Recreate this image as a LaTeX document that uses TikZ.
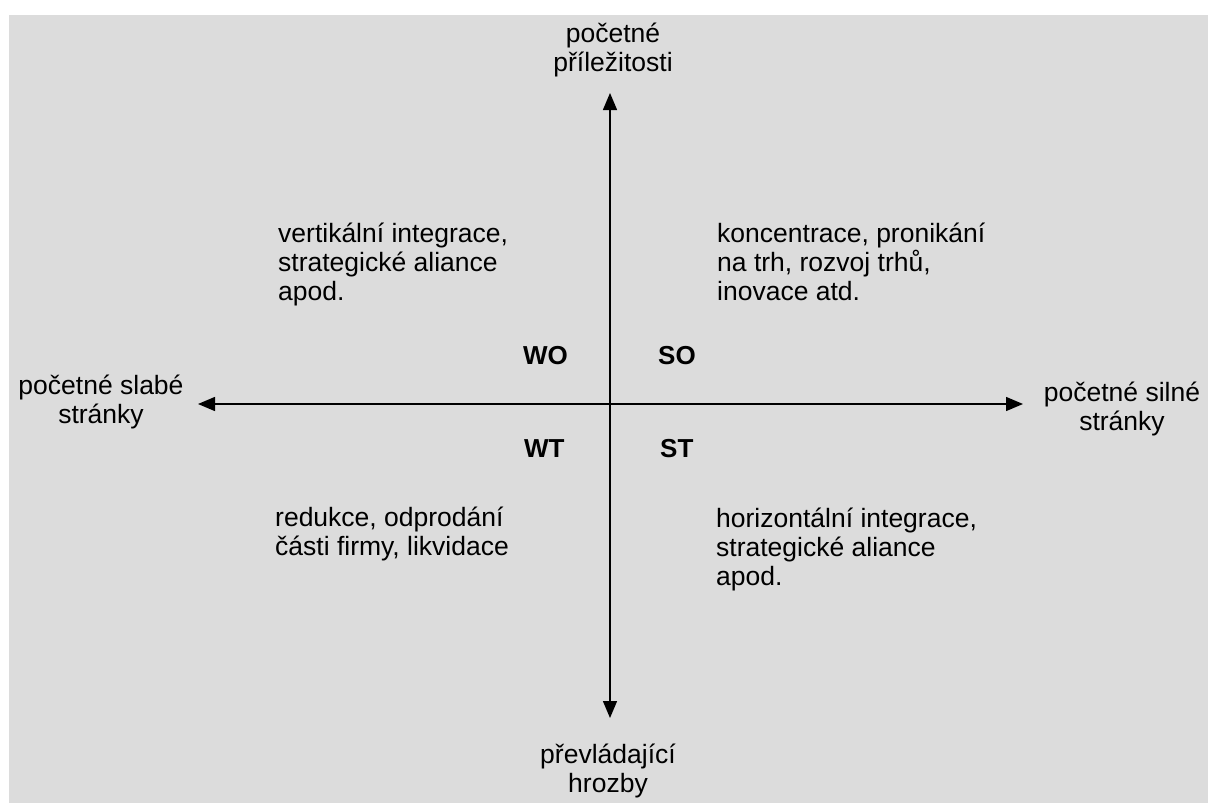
\documentclass[tikz,border=0pt]{standalone}
\usepackage{fontspec}
\setmainfont{Liberation Sans}
\usetikzlibrary{arrows.meta}
\definecolor{paper}{RGB}{220,220,220}
\tikzset{
  lbl/.style={inner sep=0pt, font=\fontsize{26.5}{29}\selectfont},
  quad/.style={inner sep=0pt, font=\fontsize{26}{29}\selectfont\bfseries},
  axis/.style={line width=1.4pt, -{Triangle[length=17pt,width=14pt]}}
}
\begin{document}
\begin{tikzpicture}[x=1pt,y=-1pt]
\useasboundingbox (0,0) rectangle (1208,803);
\fill[white] (0,0) rectangle (1208,803);
\fill[paper] (9,15) rectangle (1208,803);
% axes
\coordinate (c) at (610,404);
\coordinate (top) at (610,93);
\coordinate (bot) at (610,718);
\coordinate (lft) at (198,404);
\coordinate (rgt) at (1023,404);
\draw[axis] (c) -- (top);
\draw[axis] (c) -- (bot);
\draw[axis] (c) -- (lft);
\draw[axis] (c) -- (rgt);
% axis labels (base = last line)
\node[lbl, anchor=base, align=center] (tl) at (613,71) {početné\\příležitosti};
\node[lbl, anchor=base, align=center] (bl) at (608,792) {převládající\\hrozby};
\node[lbl, anchor=base, align=center] (ll) at (101,423) {početné slabé\\stránky};
\node[lbl, anchor=base, align=center] (rl) at (1122,430) {početné silné\\stránky};
% quadrant labels
\node[quad, anchor=base west] (wo) at (523,364) {WO};
\node[quad, anchor=base west] (so) at (658,364) {SO};
\node[quad, anchor=base west] (wt) at (524,457) {WT};
\node[quad, anchor=base west] (st) at (660,457) {ST};
% strategies
\node[lbl, anchor=base west, align=left] (q1) at (278,300) {vertikální integrace,\\strategické aliance\\apod.};
\node[lbl, anchor=base west, align=left] (q2) at (717,300) {koncentrace, pronikání\\na trh, rozvoj trhů,\\inovace atd.};
\node[lbl, anchor=base west, align=left] (q3) at (275,555) {redukce, odprodání\\části firmy, likvidace};
\node[lbl, anchor=base west, align=left] (q4) at (716,585) {horizontální integrace,\\strategické aliance\\apod.};
\end{tikzpicture}
\end{document}
